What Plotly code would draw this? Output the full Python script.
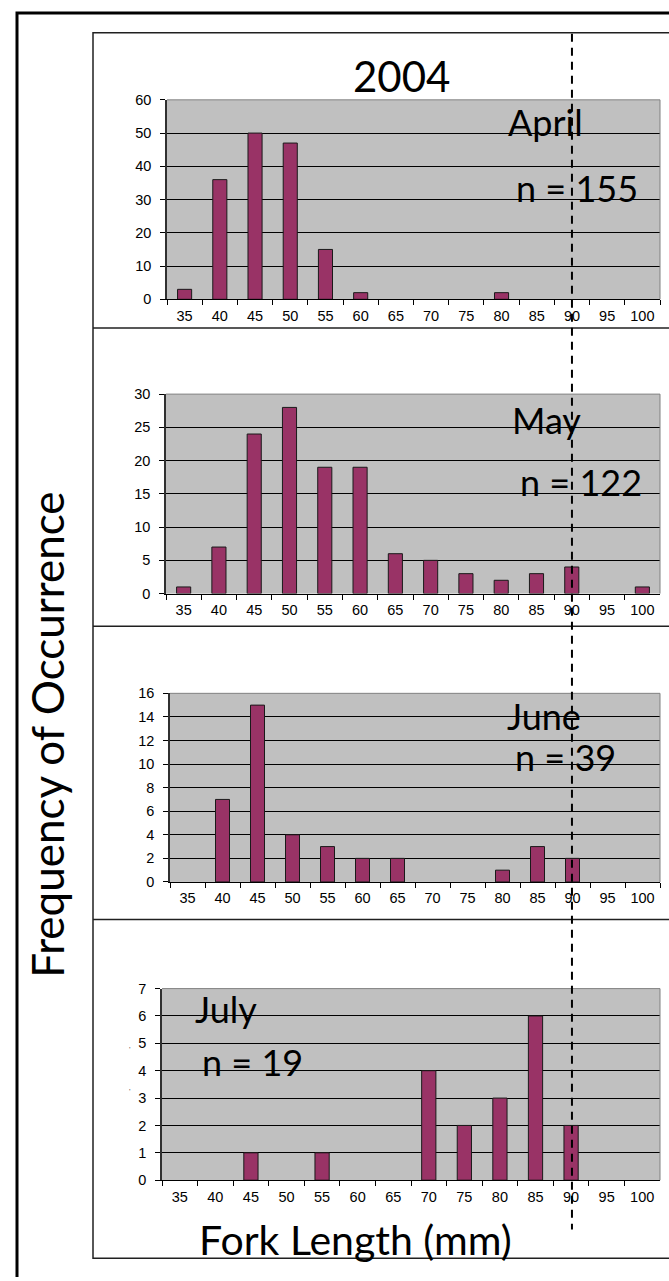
import plotly.graph_objects as go

# Fork-length bins (mm) and monthly counts of fish caught in 2004
lengths = ["35", "40", "45", "50", "55", "60", "65", "70", "75", "80", "85", "90", "95", "100"]
april = [3, 36, 50, 47, 15, 2, 0, 0, 0, 2, 0, 0, 0, 0]
may = [1, 7, 24, 28, 19, 19, 6, 5, 3, 2, 3, 4, 0, 1]
june = [0, 7, 15, 4, 3, 2, 2, 0, 0, 1, 3, 2, 0, 0]
july = [0, 0, 1, 0, 1, 0, 0, 4, 2, 3, 6, 2, 0, 0]
months = ["April", "May", "June", "July"]
sample_sizes = [155, 122, 39, 19]
y_max = [60, 30, 16, 7]
y_step = [10, 5, 2, 1]
marker_length = "90"

W, H = 669, 1281
BAR = "#993366"
FONT_T = "Lato, 'Open Sans', sans-serif"
FONT_A = "'Liberation Sans', Arial, sans-serif"


def px_x(v):
    return v / W


def px_y(v):
    return 1 - v / H


# plot-area boxes in page pixels: left, right, top, bottom
boxes = [(167, 660, 93, 295), (166, 660, 391, 593), (170, 660, 694, 885), (162, 660, 993, 1187)]
# label placement per panel: (x_left, y_month, y_n)
labels_pos = [(506, 115, 182), (510, 417, 480), (505, 717, 758), (193, 1014, 1067)]

fig = go.Figure()
series = [april, may, june, july]
shapes = []
annotations = []

for i, counts in enumerate(series):
    xa = "x" if i == 0 else f"x{i + 1}"
    ya = "y" if i == 0 else f"y{i + 1}"
    # empty bins are left undrawn
    heights = [c if c > 0 else None for c in counts]
    fig.add_trace(go.Bar(
        x=lengths, y=heights, xaxis=xa, yaxis=ya, width=0.4,
        marker=dict(color=BAR, line=dict(color="#1a1a1a", width=1)),
        showlegend=False, hoverinfo="x+y",
    ))
    l, r, t, b = boxes[i]
    xkey = "xaxis" if i == 0 else f"xaxis{i + 1}"
    ykey = "yaxis" if i == 0 else f"yaxis{i + 1}"
    fig.update_layout({
        xkey: dict(
            domain=[px_x(l), px_x(r)], anchor=ya, type="category",
            categoryorder="array", categoryarray=lengths,
            range=[-0.5, len(lengths) - 0.5], tickson="boundaries",
            ticks="outside", ticklen=5, tickcolor="#000000", tickwidth=1,
            showline=True, linecolor="#000000", linewidth=1, showgrid=False,
            tickfont=dict(family=FONT_A, size=14.5, color="#000000"),
            ticklabelstandoff=3, fixedrange=True,
        ),
        ykey: dict(
            domain=[px_y(b), px_y(t)], anchor=xa, range=[0, y_max[i]],
            tick0=0, dtick=y_step[i], ticks="outside", ticklen=5,
            tickcolor="#000000", tickwidth=1, showline=True,
            linecolor="#303030", linewidth=1.5, showgrid=True,
            gridcolor="#000000", gridwidth=1, zeroline=False,
            tickfont=dict(family=FONT_A, size=14.5, color="#000000"),
            ticklabelstandoff=6, fixedrange=True,
        ),
    })
    # grey plot-area border on top and right
    shapes.append(dict(type="path", xref=f"{xa} domain", yref=f"{ya} domain",
                       path="M 0,1 L 1,1 L 1,0", line=dict(color="#808080", width=1),
                       layer="above"))
    lx, ymon, yn = labels_pos[i]
    annotations.append(dict(text=months[i], x=px_x(lx), y=px_y(ymon), xref="paper", yref="paper",
                            xanchor="left", yanchor="middle", showarrow=False,
                            font=dict(family=FONT_T, size=36, color="#000000")))
    annotations.append(dict(text=f"n = {sample_sizes[i]}", x=px_x(lx + 8 if i != 3 else lx + 7),
                            y=px_y(yn), xref="paper", yref="paper",
                            xanchor="left", yanchor="middle", showarrow=False,
                            font=dict(family=FONT_T, size=36, color="#000000")))

# small stray tick marks beside the July axis
for yy in (1055, 1097):
    annotations.append(dict(text="'", x=px_x(130), y=px_y(yy), xref="paper", yref="paper",
                            xanchor="center", yanchor="middle", showarrow=False,
                            font=dict(family=FONT_A, size=8, color="#555555")))

# panel frames: outer frame and inner stacked boxes
shapes.append(dict(type="path", xref="paper", yref="paper",
                   path=f"M {px_x(17)},{px_y(1285)} L {px_x(17)},{px_y(5)} L {px_x(672)},{px_y(5)}",
                   line=dict(color="#000000", width=3)))
shapes.append(dict(type="path", xref="paper", yref="paper",
                   path=f"M {px_x(672)},{px_y(25)} L {px_x(93)},{px_y(25)} L {px_x(93)},{px_y(1266)} L {px_x(672)},{px_y(1266)}",
                   line=dict(color="#202020", width=1.5)))
for yy in (324, 626, 923):
    shapes.append(dict(type="line", xref="paper", yref="paper",
                       x0=px_x(93), x1=px_x(672), y0=px_y(yy), y1=px_y(yy),
                       line=dict(color="#202020", width=1.5)))

# dashed reference line at the 90 mm bin, spanning all panels
shapes.append(dict(type="line", xref="x", yref="paper",
                   x0=lengths.index(marker_length), x1=lengths.index(marker_length),
                   y0=px_y(26), y1=px_y(1237),
                   line=dict(color="#000000", width=2, dash="8px,6px"), layer="above"))

annotations.append(dict(text="2004", x=px_x(401), y=px_y(69), xref="paper", yref="paper",
                        xanchor="center", yanchor="middle", showarrow=False,
                        font=dict(family=FONT_T, size=42, color="#000000")))
annotations.append(dict(text="Fork Length (mm)", x=px_x(355), y=px_y(1247), xref="paper", yref="paper",
                        xanchor="center", yanchor="middle", showarrow=False,
                        font=dict(family=FONT_T, size=41, color="#000000")))
annotations.append(dict(text="Frequency of Occurrence", x=px_x(47), y=px_y(736), xref="paper", yref="paper",
                        xanchor="center", yanchor="middle", showarrow=False, textangle=-90,
                        font=dict(family=FONT_T, size=44, color="#000000")))

fig.update_layout(
    width=W, height=H, margin=dict(l=0, r=0, t=0, b=0), autosize=False,
    paper_bgcolor="#FFFFFF", plot_bgcolor="#C0C0C0",
    shapes=shapes, annotations=annotations, bargap=0.6,
)

fig.write_html("out.html", include_plotlyjs=True, config={"displayModeBar": False})
